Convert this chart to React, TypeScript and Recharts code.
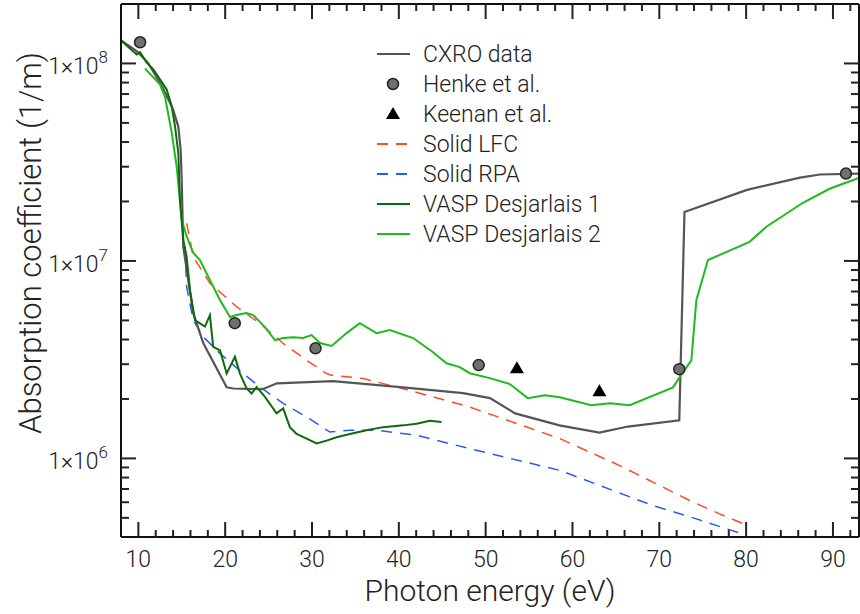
import React from 'react';
import { ComposedChart, Line, Scatter, XAxis, YAxis, Legend } from 'recharts';

const FONT = 'Roboto, "Liberation Sans", Arial, sans-serif';
const WEIGHT = 300;

// energy (eV), absorption coefficient (1/m)
const cxro: [number, number][] = [
  [8.0, 1.31e8], [9.84, 1.15e8], [11.1, 1.01e8], [12.8, 7.55e7], [14.0, 5.84e7],
  [14.6, 4.79e7], [14.87, 3.66e7], [14.99, 2.58e7], [15.17, 1.18e7], [16.32, 5.44e6],
  [17.47, 3.84e6], [20.17, 2.29e6], [20.93, 2.26e6], [24.3, 2.24e6], [25.96, 2.4e6],
  [32.4, 2.46e6], [40.5, 2.29e6], [47.4, 2.14e6], [50.5, 2.02e6], [53.4, 1.69e6],
  [58.5, 1.47e6], [63.1, 1.35e6], [66.4, 1.45e6], [72.3, 1.56e6], [72.9, 1.77e7],
  [80.1, 2.29e7], [86.2, 2.64e7], [88.5, 2.74e7], [93.0, 2.77e7],
];

const henke: [number, number][] = [
  [10.2, 1.28e8], [21.1, 4.84e6], [30.4, 3.61e6], [49.2, 2.97e6], [72.3, 2.83e6], [91.5, 2.77e7],
];

const keenan: [number, number][] = [
  [53.6, 2.86e6], [63.1, 2.19e6],
];

const solidLfc: [number, number][] = [
  [15.56, 1.55e7], [16.32, 1.05e7], [18.24, 7.71e6], [21.32, 5.86e6], [24.0, 4.83e6],
  [26.68, 3.82e6], [29.38, 3.14e6], [31.68, 2.69e6], [32.25, 2.64e6], [35.89, 2.54e6],
  [39.74, 2.3e6], [43.95, 2.05e6], [48.17, 1.82e6], [58.53, 1.26e6], [65.44, 9.2e5],
  [73.5, 6.12e5], [76.95, 5.24e5], [79.91, 4.62e5],
];

const solidRpa: [number, number][] = [
  [15.37, 1.18e7], [15.56, 7.41e6], [16.32, 5.02e6], [17.47, 4.13e6], [19.4, 3.4e6],
  [22.08, 2.69e6], [24.0, 2.3e6], [26.68, 1.9e6], [29.38, 1.62e6], [32.06, 1.36e6],
  [34.36, 1.39e6], [37.43, 1.39e6], [42.04, 1.31e6], [48.17, 1.12e6], [58.53, 8.7e5],
  [69.27, 5.77e5], [74.27, 4.94e5], [79.83, 4.11e5],
];

const vasp1: [number, number][] = [
  [8.08, 1.3e8], [9.61, 1.13e8], [9.81, 1.11e8], [10.19, 1.14e8], [10.96, 1.01e8],
  [11.72, 9.33e7], [12.49, 8.3e7], [13.26, 7.38e7], [13.84, 6.07e7], [14.22, 4.81e7],
  [14.6, 3.52e7], [14.79, 2.04e7], [15.17, 1.28e7], [15.56, 1.05e7], [15.94, 7.13e6],
  [16.52, 5.02e6], [17.09, 4.83e6], [17.67, 4.65e6], [18.24, 5.32e6], [18.62, 3.67e6],
  [19.4, 3.53e6], [20.17, 2.69e6], [21.12, 3.27e6], [21.7, 2.69e6], [22.47, 2.26e6],
  [23.04, 2.13e6], [23.62, 2.3e6], [24.58, 2.05e6], [25.92, 1.69e6], [26.68, 1.79e6],
  [27.45, 1.44e6], [28.22, 1.33e6], [29.38, 1.26e6], [30.53, 1.19e6], [31.68, 1.23e6],
  [32.83, 1.28e6], [34.36, 1.33e6], [36.28, 1.39e6], [38.19, 1.44e6], [40.5, 1.47e6],
  [42.04, 1.5e6], [43.57, 1.55e6], [44.92, 1.53e6],
];

const vasp2: [number, number][] = [
  [10.76, 9.44e7], [12.49, 7.82e7], [13.06, 6.79e7], [13.84, 4.47e7], [14.41, 3.0e7],
  [14.79, 2.04e7], [14.99, 1.62e7], [15.56, 1.33e7], [16.32, 1.1e7], [17.09, 1.01e7],
  [18.24, 8.01e6], [19.4, 6.34e6], [20.55, 5.2e6], [21.32, 5.32e6], [22.47, 5.45e6],
  [23.23, 5.32e6], [24.58, 4.62e6], [25.73, 3.97e6], [26.68, 4.07e6], [27.83, 4.11e6],
  [28.98, 4.07e6], [29.95, 4.21e6], [30.91, 3.84e6], [32.25, 3.71e6], [33.98, 4.31e6],
  [35.51, 4.84e6], [37.43, 4.31e6], [38.96, 4.47e6], [41.65, 4.07e6], [43.95, 3.45e6],
  [45.49, 3.03e6], [47.02, 2.9e6], [48.17, 2.7e6], [50.48, 2.55e6], [52.78, 2.38e6],
  [54.85, 2.02e6], [56.81, 2.09e6], [58.53, 2.04e6], [62.18, 1.86e6], [64.29, 1.9e6],
  [66.59, 1.86e6], [71.58, 2.29e6], [72.35, 2.58e6], [73.69, 3.14e6], [74.27, 6.34e6],
  [75.6, 1.01e7], [80.4, 1.25e7], [82.33, 1.49e7], [86.54, 1.97e7], [89.61, 2.32e7],
  [93.07, 2.64e7],
];

const xMajor = [10, 20, 30, 40, 50, 60, 70, 80, 90];
const xMinor = [12, 14, 16, 18, 22, 24, 26, 28, 32, 34, 36, 38, 42, 44, 46, 48, 52, 54, 56, 58,
  62, 64, 66, 68, 72, 74, 76, 78, 82, 84, 86, 88, 92];
const yMajor = [1e6, 1e7, 1e8];
const yMinor = [5e5, 6e5, 7e5, 8e5, 9e5, 2e6, 3e6, 4e6, 5e6, 6e6, 7e6, 8e6, 9e6,
  2e7, 3e7, 4e7, 5e7, 6e7, 7e7, 8e7, 9e7];

const legendItems = [
  { name: 'CXRO data', kind: 'line', color: '#555555', dash: '' },
  { name: 'Henke et al.', kind: 'circle', color: '#707070', dash: '' },
  { name: 'Keenan et al.', kind: 'triangle', color: '#000000', dash: '' },
  { name: 'Solid LFC', kind: 'line', color: '#ff4a2a', dash: '11 8' },
  { name: 'Solid RPA', kind: 'line', color: '#2a5af0', dash: '11 8' },
  { name: 'VASP Desjarlais 1', kind: 'line', color: '#0f6a0f', dash: '' },
  { name: 'VASP Desjarlais 2', kind: 'line', color: '#1fba1f', dash: '' },
];

const toPts = (arr: [number, number][]) => arr.map(([x, y]) => ({ x, y }));

const xTicks = [...xMajor, ...xMinor].sort((a, b) => a - b);
const yTicks = [...yMajor, ...yMinor].sort((a, b) => a - b);

const TICK = '#222222';

const BottomTick = (props: any) => {
  const { x, y, payload } = props;
  const major = xMajor.includes(payload.value);
  return (
    <g>
      <path d={`M${x},${y}V${y - (major ? 15 : 7)}`} stroke={TICK} strokeWidth={2} fill="none" />
      {major && (
        <text x={x} y={y + 30} textAnchor="middle" fontFamily={FONT} fontWeight={WEIGHT} fontSize={23} fill="#222">
          {payload.value}
        </text>
      )}
    </g>
  );
};

const TopTick = (props: any) => {
  const { x, y, payload } = props;
  const major = xMajor.includes(payload.value);
  return <path d={`M${x},${y}V${y + (major ? 15 : 7)}`} stroke={TICK} strokeWidth={2} fill="none" />;
};

const LeftTick = (props: any) => {
  const { x, y, payload } = props;
  const major = yMajor.includes(payload.value);
  const exp = Math.round(Math.log10(payload.value));
  return (
    <g>
      <path d={`M${x},${y}H${x + (major ? 15 : 8)}`} stroke={TICK} strokeWidth={2} fill="none" />
      {major && (
        <text x={x - 13} y={y + 11} textAnchor="end" fontFamily={FONT} fontWeight={WEIGHT} fontSize={23} fill="#222">
          1×10<tspan dy={-11} fontSize={17}>{exp}</tspan>
        </text>
      )}
    </g>
  );
};

const RightTick = (props: any) => {
  const { x, y, payload } = props;
  const major = yMajor.includes(payload.value);
  return <path d={`M${x},${y}H${x - (major ? 15 : 8)}`} stroke={TICK} strokeWidth={2} fill="none" />;
};

const XTitle = (props: any) => {
  const { x, y, width } = props.viewBox;
  return (
    <text x={x + width / 2} y={y + 64} textAnchor="middle" fontFamily={FONT} fontWeight={WEIGHT} fontSize={30} fill="#222">
      Photon energy (eV)
    </text>
  );
};

const YTitle = (props: any) => {
  const { x } = props.viewBox;
  const cx = x + 30;
  const cy = 243;
  return (
    <text x={cx} y={cy} transform={`rotate(-90, ${cx}, ${cy})`} textAnchor="middle" dominantBaseline="central"
      fontFamily={FONT} fontWeight={WEIGHT} fontSize={31} fill="#222">
      Absorption coefficient (1/m)
    </text>
  );
};

const LegendBox = () => (
  <div style={{ fontFamily: FONT, fontWeight: WEIGHT, fontSize: 23, color: '#222' }}>
    {legendItems.map((it) => (
      <div key={it.name} style={{ display: 'flex', alignItems: 'center', height: 30 }}>
        <svg width={42} height={30} style={{ marginRight: 11 }}>
          {it.kind === 'line' && (
            <line x1={7} x2={40} y1={15} y2={15} stroke={it.color} strokeWidth={2} strokeDasharray={it.dash || undefined} />
          )}
          {it.kind === 'circle' && <circle cx={23} cy={15} r={5.5} fill={it.color} stroke="#222" strokeWidth={1.5} />}
          {it.kind === 'triangle' && <polygon points="23,8 30,20 16,20" fill="#000" />}
        </svg>
        <span style={{ whiteSpace: 'nowrap' }}>{it.name}</span>
      </div>
    ))}
  </div>
);

const HenkeDot = (props: any) => (
  <circle cx={props.cx} cy={props.cy} r={5.5} fill="#707070" stroke="#222" strokeWidth={1.5} />
);

const KeenanTri = (props: any) => {
  const { cx, cy } = props;
  return <polygon points={`${cx},${cy - 7} ${cx + 7},${cy + 5} ${cx - 7},${cy + 5}`} fill="#000" />;
};

export default function App() {
  return (
    <div style={{ width: 860, height: 614 }}>
      <style>{'body{margin:0}'}</style>
      <ComposedChart width={860} height={614} margin={{ top: 3, right: 0, bottom: 0, left: 0 }}>
        <XAxis
          dataKey="x"
          type="number"
          domain={[8, 93]}
          allowDataOverflow
          ticks={xTicks}
          interval={0}
          tickSize={0}
          tickMargin={0}
          tickLine={false}
          tick={BottomTick}
          height={77}
          axisLine={{ stroke: '#111', strokeWidth: 2 }}
          label={XTitle}
        />
        <XAxis
          xAxisId="top"
          orientation="top"
          dataKey="x"
          type="number"
          domain={[8, 93]}
          allowDataOverflow
          ticks={xTicks}
          interval={0}
          tickSize={0}
          tickMargin={0}
          tickLine={false}
          tick={TopTick}
          height={1}
          axisLine={{ stroke: '#111', strokeWidth: 2 }}
        />
        <YAxis
          dataKey="y"
          type="number"
          scale="log"
          domain={[4e5, 2e8]}
          allowDataOverflow
          ticks={yTicks}
          interval={0}
          tickSize={0}
          tickMargin={0}
          tickLine={false}
          tick={LeftTick}
          width={121}
          axisLine={{ stroke: '#111', strokeWidth: 2 }}
          label={YTitle}
        />
        <YAxis
          yAxisId="right"
          orientation="right"
          dataKey="y"
          type="number"
          scale="log"
          domain={[4e5, 2e8]}
          allowDataOverflow
          ticks={yTicks}
          interval={0}
          tickSize={0}
          tickMargin={0}
          tickLine={false}
          tick={RightTick}
          width={1}
          axisLine={{ stroke: '#111', strokeWidth: 2 }}
        />
        <Legend
          content={LegendBox}
          layout="vertical"
          align="center"
          verticalAlign="middle"
          wrapperStyle={{ left: 370, top: 39, width: 270 }}
        />
        {/* invisible series so the frame axes (top/right) have data */}
        <Line data={toPts(cxro)} dataKey="y" xAxisId="top" yAxisId="right" stroke="none" dot={false}
          legendType="none" isAnimationActive={false} />
        <Line data={toPts(solidLfc)} dataKey="y" stroke="#ff4a2a" strokeWidth={1.5} strokeDasharray="11 8" dot={false} isAnimationActive={false} />
        <Line data={toPts(solidRpa)} dataKey="y" stroke="#2a5af0" strokeWidth={1.5} strokeDasharray="11 8" dot={false} isAnimationActive={false} />
        <Line data={toPts(cxro)} dataKey="y" stroke="#555555" strokeWidth={2.2} dot={false} isAnimationActive={false} />
        <Line data={toPts(vasp2)} dataKey="y" stroke="#1fba1f" strokeWidth={2} dot={false} isAnimationActive={false} />
        <Line data={toPts(vasp1)} dataKey="y" stroke="#0f6a0f" strokeWidth={2} dot={false} isAnimationActive={false} />
        <Scatter data={toPts(henke)} dataKey="y" shape={HenkeDot} isAnimationActive={false} />
        <Scatter data={toPts(keenan)} dataKey="y" shape={KeenanTri} isAnimationActive={false} />
      </ComposedChart>
    </div>
  );
}
